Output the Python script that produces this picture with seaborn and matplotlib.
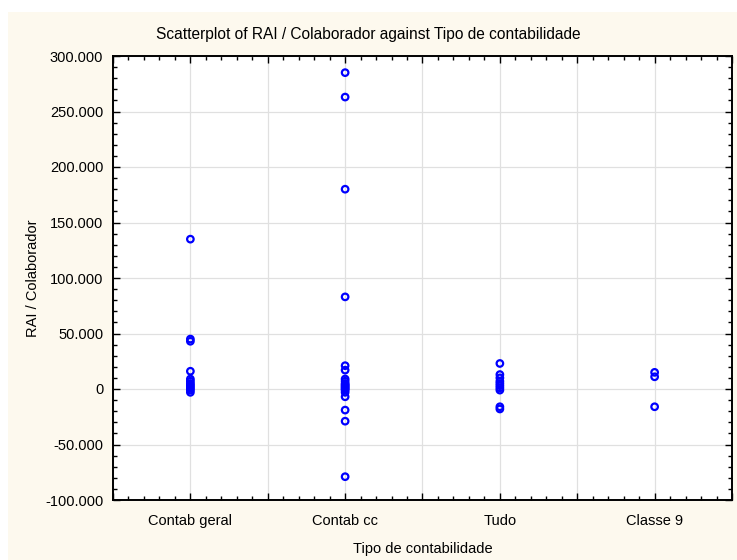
import matplotlib
matplotlib.use("Agg")
import matplotlib.pyplot as plt
from matplotlib.patches import Rectangle
from matplotlib.ticker import MultipleLocator, FuncFormatter
import seaborn as sns
import pandas as pd

# Categories along the x axis
categories = ["Contab geral", "Contab cc", "Tudo", "Classe 9"]

# RAI / Colaborador per company, grouped by accounting type
contab_geral = [135000, 45000, 43000, 16000, 9000, 7000, 5000, 3500, 2000, 500, -1000, -3000]
contab_cc = [285000, 263000, 180000, 83000, 21000, 17000, 9000, 7000, 5000, 4000, 3000,
             2000, 1000, 0, -1000, -3000, -7000, -19000, -29000, -79000]
tudo = [23000, 13000, 10000, 7000, 5000, 3000, 1000, -1000, -16000, -18000]
classe_9 = [15000, 11000, -16000]

title = "Scatterplot of RAI / Colaborador against Tipo de contabilidade"
x_label = "Tipo de contabilidade"
y_label = "RAI / Colaborador"

groups = [contab_geral, contab_cc, tudo, classe_9]
df = pd.DataFrame({
    "tipo": [c for c, g in zip(categories, groups) for _ in g],
    "rai": [v for g in groups for v in g],
})
df["tipo"] = pd.Categorical(df["tipo"], categories=categories, ordered=True)
df["pos"] = df["tipo"].cat.codes

sns.set_style("white")
plt.rcParams["font.family"] = ["Liberation Sans", "DejaVu Sans"]
plt.rcParams["text.color"] = "black"
plt.rcParams["axes.labelcolor"] = "black"

fig = plt.figure(figsize=(7.37, 5.6), dpi=100, facecolor="white")
W, H = 737, 560
# cream panel behind the chart
fig.patches.append(Rectangle((8 / W, 0), 1 - 8 / W, 1 - 12 / H, transform=fig.transFigure,
                             facecolor="#FDF9EE", edgecolor="none", zorder=-5))

ax = fig.add_axes([113 / W, 1 - 500 / H, (732 - 113) / W, (500 - 56) / H])
ax.set_zorder(2)
ax.set_facecolor("white")

sns.scatterplot(data=df, x="pos", y="rai", ax=ax, marker="o", s=22,
                facecolor="none", edgecolor="#0000FF", linewidth=1.6,
                zorder=3, legend=False)

ax.set_xlim(-0.5, 3.5)
ax.set_ylim(-100000, 300000)

ax.xaxis.set_major_locator(MultipleLocator(0.5))
ax.xaxis.set_minor_locator(MultipleLocator(0.1))
ax.xaxis.set_major_formatter(FuncFormatter(
    lambda v, p: categories[int(round(v))] if abs(v - round(v)) < 1e-6 and 0 <= round(v) < len(categories) else ""))
ax.yaxis.set_major_locator(MultipleLocator(50000))
ax.yaxis.set_minor_locator(MultipleLocator(10000))
ax.yaxis.set_major_formatter(FuncFormatter(lambda v, p: f"{v:,.0f}".replace(",", ".")))

ax.grid(True, which="major", color="#E0E0E0", linewidth=0.9, zorder=0)
ax.set_axisbelow(True)

for s in ax.spines.values():
    s.set_visible(True)
    s.set_color("black")
    s.set_linewidth(1.4)

ax.tick_params(which="both", direction="in", top=True, right=True, bottom=True, left=True,
               colors="black", labelsize=10.5)
ax.tick_params(which="major", length=5, width=1)
ax.tick_params(which="minor", length=3, width=1)
ax.tick_params(axis="x", which="major", pad=10)
ax.tick_params(axis="y", which="major", pad=7)

ax.set_xlabel(x_label, fontsize=10.5)
ax.set_ylabel(y_label, fontsize=10.5)
ax.xaxis.set_label_coords(0.5, -0.095)
ax.yaxis.set_label_coords(-0.118, 0.5)

fig.text(368 / W, 1 - 35 / H, title, ha="center", va="center", fontsize=11.2)

fig.savefig("out.png", dpi=100, facecolor=fig.get_facecolor())
